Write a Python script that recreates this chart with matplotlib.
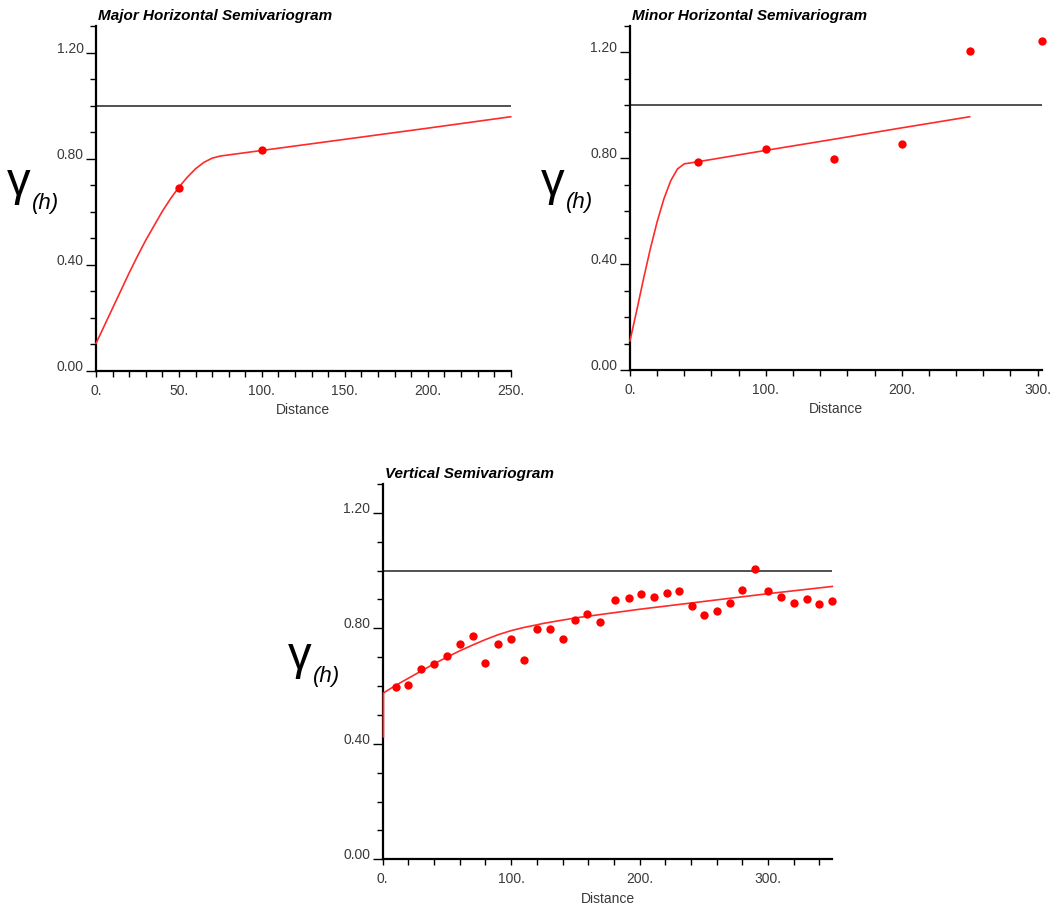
import matplotlib
matplotlib.use("Agg")
import matplotlib.pyplot as plt
from matplotlib.ticker import MultipleLocator, FixedLocator

plt.rcParams["font.family"] = ["Liberation Sans", "DejaVu Sans"]

SILL = 1.0

major_lag   = [50, 100]
major_gamma = [0.688, 0.833]
major_model_h = [0, 10, 20, 25, 30, 40, 45, 50, 55, 60, 65, 70, 75, 100, 150, 200, 250]
major_model_g = [0.104, 0.237, 0.370, 0.433, 0.493, 0.602, 0.650, 0.693, 0.730,
                 0.762, 0.786, 0.802, 0.810, 0.831, 0.873, 0.915, 0.958]

minor_lag   = [50, 100, 150, 200, 250, 303]
minor_gamma = [0.785, 0.835, 0.798, 0.854, 1.207, 1.242]
minor_model_h = [0, 5, 10, 15, 20, 25, 30, 35, 40, 50, 100, 150, 200, 250]
minor_model_g = [0.11, 0.225, 0.345, 0.458, 0.560, 0.647, 0.715, 0.760, 0.779,
                 0.787, 0.830, 0.872, 0.915, 0.957]

vert_lag = [10, 20, 30, 40, 50, 60, 70, 80, 90, 100, 110, 120, 130, 140, 150, 159,
            169, 181, 192, 201, 211, 221, 231, 241, 250, 260, 270, 280, 290, 300,
            310, 320, 330, 340, 350]
vert_gamma = [0.597, 0.602, 0.659, 0.676, 0.703, 0.745, 0.772, 0.679, 0.747, 0.764,
              0.689, 0.797, 0.797, 0.764, 0.828, 0.851, 0.821, 0.897, 0.906, 0.918,
              0.908, 0.923, 0.930, 0.877, 0.845, 0.860, 0.886, 0.933, 1.004, 0.928,
              0.910, 0.889, 0.903, 0.883, 0.896]
vert_model_h = [0.6, 0.6, 10, 20, 30, 40, 50, 60, 70, 80, 90, 100, 110, 120, 125,
                150, 200, 250, 300, 350]
vert_model_g = [0.424, 0.576, 0.602, 0.627, 0.652, 0.677, 0.700, 0.722, 0.742,
                0.761, 0.778, 0.792, 0.803, 0.812, 0.817, 0.836, 0.866, 0.893,
                0.920, 0.945]

TEXT_GREY = "#3a3a3a"


def draw_panel(ax, title, lag, gamma, mh, mg, xmax, xmajor, xminor, gx=0):
    ax.axhline(SILL, color="#333333", lw=1.2, zorder=1)
    ax.plot(mh, mg, color="#ff2a2a", lw=1.2, zorder=4, clip_on=False)
    ax.plot(lag, gamma, "o", color="red", ms=6, mec="none", zorder=5, clip_on=False)

    ax.set_xlim(0, xmax)
    ax.set_ylim(0, 1.3)
    for s in ("top", "right"):
        ax.spines[s].set_visible(False)
    for s in ("left", "bottom"):
        ax.spines[s].set_linewidth(1.6)

    ax.yaxis.set_major_locator(FixedLocator([0.0, 0.4, 0.8, 1.2]))
    ax.yaxis.set_minor_locator(MultipleLocator(0.1))
    ax.set_yticklabels(["0.00", "0.40", "0.80", "1.20"])
    ticks = [t for t in range(0, int(xmax) + 1, xmajor)]
    ax.set_xticks(ticks)
    ax.set_xticklabels([f"{t}." for t in ticks])
    ax.xaxis.set_minor_locator(MultipleLocator(xminor))

    ax.tick_params(axis="y", which="major", length=7, width=1, pad=2,
                   labelsize=10, labelcolor=TEXT_GREY)
    ax.tick_params(axis="y", which="minor", length=4.3, width=1)
    ax.tick_params(axis="x", which="both", length=4.3, width=1, pad=5,
                   labelsize=10, labelcolor=TEXT_GREY)
    for lab in ax.get_yticklabels():
        lab.set_verticalalignment("baseline")

    ax.set_xlabel("Distance", fontsize=10, color=TEXT_GREY, labelpad=4)
    ax.set_title(title, loc="left", fontsize=11, fontweight="bold",
                 fontstyle="italic", pad=4, x=0.005)

    # gamma(h) axis label, drawn as two pieces
    ax.annotate("γ", xy=(0, 0.5), xycoords="axes fraction",
                xytext=(-77 + gx, 3), textcoords="offset pixels",
                ha="center", va="baseline", fontsize=34)
    ax.annotate("(h)", xy=(0, 0.5), xycoords="axes fraction",
                xytext=(-64 + gx, -5), textcoords="offset pixels",
                ha="left", va="center", fontsize=16, fontstyle="italic")


fig = plt.figure(figsize=(10.6, 9.09), dpi=100)
ax1 = fig.add_axes([0.0906, 0.5919, 0.3912, 0.3795])
ax2 = fig.add_axes([0.5943, 0.5930, 0.3884, 0.3784])
ax3 = fig.add_axes([0.3610, 0.0547, 0.4242, 0.4129])

draw_panel(ax1, "Major Horizontal Semivariogram", major_lag, major_gamma,
           major_model_h, major_model_g, 250, 50, 10)
draw_panel(ax2, "Minor Horizontal Semivariogram", minor_lag, minor_gamma,
           minor_model_h, minor_model_g, 303, 100, 20)
draw_panel(ax3, "Vertical Semivariogram", vert_lag, vert_gamma,
           vert_model_h, vert_model_g, 350, 100, 20, gx=-6)

fig.savefig("out.png", dpi=100)
